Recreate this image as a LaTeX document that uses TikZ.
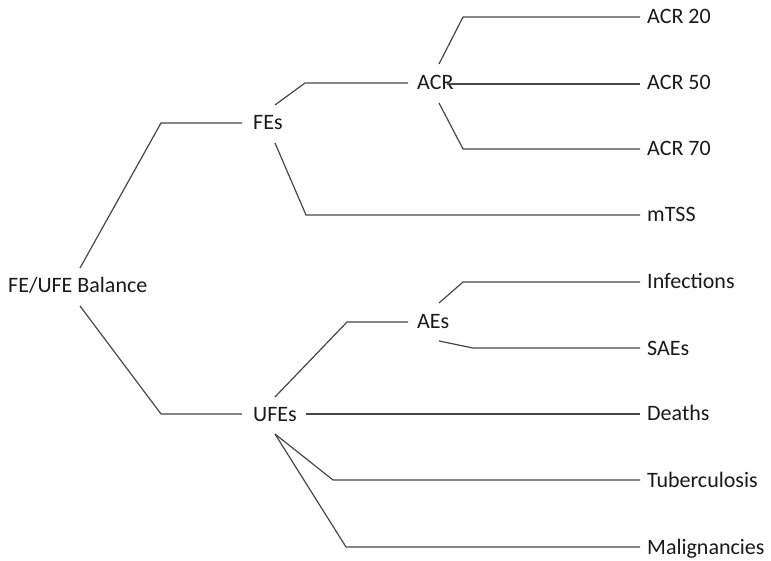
\documentclass[tikz,border=0pt]{standalone}
\usepackage{fontspec}
\setmainfont{Carlito}
\begin{document}
\begin{tikzpicture}[x=1pt,y=-1pt,
  lbl/.style={anchor=base west,inner sep=0pt,text=black!90,font=\fontsize{22}{26}\selectfont},
  branch/.style={draw=black!72,line width=1.2pt,line join=round}]
\useasboundingbox (0,0) rectangle (771,561);

% labels
\node[lbl] (root) at (8,293) {FE/UFE Balance};
\node[lbl] (fe)   at (253,130) {FEs};
\node[lbl] (ufe)  at (253,421) {UFEs};
\node[lbl] (acr)  at (417,90) {ACR};
\node[lbl] (ae)   at (417,329) {AEs};
\node[lbl] (a20)  at (647,24) {ACR 20};
\node[lbl] (a50)  at (647,90) {ACR 50};
\node[lbl] (a70)  at (647,156) {ACR 70};
\node[lbl] (mtss) at (647,222) {mTSS};
\node[lbl] (inf)  at (647,289) {Infections};
\node[lbl] (sae)  at (647,355) {SAEs};
\node[lbl] (dth)  at (647,420) {Deaths};
\node[lbl] (tb)   at (647,487) {Tuberculosis};
\node[lbl] (mal)  at (647,554) {Malignancies};

% connector end points
\coordinate (rootU) at (80,268);
\coordinate (rootD) at (80,306);
\coordinate (feL)   at (242,123);
\coordinate (ufeL)  at (242,414);
\coordinate (feU)   at (275,105);
\coordinate (feD)   at (275,143);
\coordinate (acrL)  at (408,83);
\coordinate (acrU)  at (439,64);
\coordinate (acrM)  at (447,84);
\coordinate (acrD)  at (439,103);
\coordinate (ufeU)  at (275,397);
\coordinate (ufeR)  at (306,414);
\coordinate (ufeD)  at (275,434);
\coordinate (aeL)   at (408,322);
\coordinate (aeU)   at (439,303);
\coordinate (aeD)   at (439,341);
\coordinate (e20)   at (640,17);
\coordinate (e50)   at (640,84);
\coordinate (e70)   at (640,149);
\coordinate (emt)   at (640,215);
\coordinate (einf)  at (640,282);
\coordinate (esae)  at (640,348);
\coordinate (edth)  at (640,414);
\coordinate (etb)   at (640,480);
\coordinate (emal)  at (640,547);

% root branches
\draw[branch] (rootU) -- (161,123) -- (feL);
\draw[branch] (rootD) -- (161,414) -- (ufeL);

% favourable effects
\draw[branch] (feU) -- (305,83) -- (acrL);
\draw[branch] (feD) -- (306,215) -- (emt);
\draw[branch] (acrU) -- (463,17) -- (e20);
\draw[branch] (acrM) -- (e50);
\draw[branch] (acrD) -- (463,149) -- (e70);

% unfavourable effects
\draw[branch] (ufeU) -- (347,322) -- (aeL);
\draw[branch] (aeU) -- (463,282) -- (einf);
\draw[branch] (aeD) -- (473,348) -- (esae);
\draw[branch] (ufeR) -- (edth);
\draw[branch] (ufeD) -- (333,480) -- (etb);
\draw[branch] (ufeD) -- (346,547) -- (emal);
\end{tikzpicture}
\end{document}
